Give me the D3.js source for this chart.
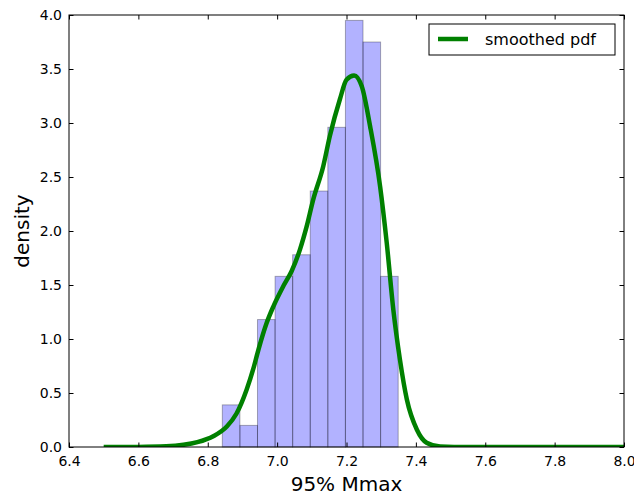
<!DOCTYPE html>
<html>
<head>
<meta charset="utf-8">
<script src="https://cdn.jsdelivr.net/npm/d3@7"></script>
<style>
  html, body { margin: 0; padding: 0; background: #fff; }
  svg { display: block; font-family: "DejaVu Sans", sans-serif; }
</style>
</head>
<body>
<svg id="chart" width="634" height="496"></svg>
<script>
// Histogram bin edges (left edges) and their normalised densities
const binStart = 6.842;
const binWidth = 0.0507;
const binDensity = [0.39, 0.20, 1.18, 1.58, 1.78, 2.37, 2.96, 3.95, 3.75, 1.58];

// Smoothed probability density (kernel estimate) sampled along the x range
const pdfX = [6.50, 6.60, 6.68, 6.73, 6.77, 6.816, 6.855, 6.883, 6.912, 6.931, 6.946,
              6.970, 6.989, 7.018, 7.042, 7.066, 7.085, 7.104, 7.133, 7.152, 7.181, 7.200,
              7.222, 7.244, 7.268, 7.297, 7.316, 7.335, 7.354, 7.374, 7.403, 7.431,
              7.47, 7.55, 8.0];
const pdfY = [0, 0.001, 0.006, 0.02, 0.045, 0.10, 0.19, 0.31, 0.53, 0.72, 0.90,
              1.15, 1.30, 1.49, 1.63, 1.83, 2.04, 2.29, 2.60, 2.88, 3.22, 3.40,
              3.44, 3.34, 2.97, 2.41, 1.89, 1.27, 0.81, 0.44, 0.16, 0.04,
              0.005, 0, 0];

// Axis ticks
const xTicks = [6.4, 6.6, 6.8, 7.0, 7.2, 7.4, 7.6, 7.8, 8.0];
const yTicks = [0.0, 0.5, 1.0, 1.5, 2.0, 2.5, 3.0, 3.5, 4.0];

const svg = d3.select("#chart");
const plotL = 69, plotR = 624, plotT = 15, plotB = 447;

const x = d3.scaleLinear().domain([6.4, 8.0]).range([plotL, plotR]);
const y = d3.scaleLinear().domain([0, 4.0]).range([plotB, plotT]);

// Histogram bars
const bins = binDensity.map((d, i) => ({ x0: binStart + i * binWidth, x1: binStart + (i + 1) * binWidth, d }));
svg.append("g").selectAll("rect").data(bins).join("rect")
  .attr("x", b => x(b.x0))
  .attr("y", b => y(b.d))
  .attr("width", b => x(b.x1) - x(b.x0))
  .attr("height", b => y(0) - y(b.d))
  .attr("fill", "rgb(0,0,255)")
  .attr("fill-opacity", 0.3)
  .attr("stroke", "#000")
  .attr("stroke-opacity", 0.3)
  .attr("stroke-width", 1);

// Smoothed pdf curve
const pdf = pdfX.map((v, i) => [v, pdfY[i]]);
svg.append("clipPath").attr("id", "plotclip").append("rect")
  .attr("x", plotL).attr("y", plotT).attr("width", plotR - plotL).attr("height", plotB - plotT);
svg.append("path")
  .datum(pdf)
  .attr("clip-path", "url(#plotclip)")
  .attr("fill", "none")
  .attr("stroke", "#008000")
  .attr("stroke-width", 4.5)
  .attr("stroke-linejoin", "round")
  .attr("d", d3.line().x(d => x(d[0])).y(d => y(d[1])).curve(d3.curveMonotoneX));

// Axes: ticks pointing inward on all four sides
const tickLen = 4.5;
const fmt = d3.format(".1f");
const axisStyle = g => {
  g.select(".domain").remove();
  g.selectAll(".tick line").attr("stroke", "#000");
  g.selectAll(".tick text").attr("fill", "#000").style("font-size", "14px").style("font-family", "DejaVu Sans, sans-serif");
};

svg.append("g").attr("transform", `translate(0,${plotB})`)
  .call(d3.axisBottom(x).tickValues(xTicks).tickFormat(fmt).tickSizeInner(-tickLen).tickSizeOuter(0).tickPadding(9))
  .call(axisStyle);
svg.append("g").attr("transform", `translate(0,${plotT})`)
  .call(d3.axisTop(x).tickValues(xTicks).tickFormat("").tickSizeInner(-tickLen).tickSizeOuter(0))
  .call(axisStyle);
svg.append("g").attr("transform", `translate(${plotL},0)`)
  .call(d3.axisLeft(y).tickValues(yTicks).tickFormat(fmt).tickSizeInner(-tickLen).tickSizeOuter(0).tickPadding(7))
  .call(axisStyle);
svg.append("g").attr("transform", `translate(${plotR},0)`)
  .call(d3.axisRight(y).tickValues(yTicks).tickFormat("").tickSizeInner(-tickLen).tickSizeOuter(0))
  .call(axisStyle);

// Frame
svg.append("rect")
  .attr("x", plotL).attr("y", plotT).attr("width", plotR - plotL).attr("height", plotB - plotT)
  .attr("fill", "none").attr("stroke", "#000").attr("stroke-width", 1);

// Axis titles
svg.append("text")
  .attr("x", (plotL + plotR) / 2).attr("y", 491)
  .attr("text-anchor", "middle").style("font-size", "20px").attr("fill", "#000")
  .text("95% Mmax");
svg.append("text")
  .attr("transform", `translate(29,${(plotT + plotB) / 2}) rotate(-90)`)
  .attr("text-anchor", "middle").style("font-size", "20px").attr("fill", "#000")
  .text("density");

// Legend
const lg = svg.append("g");
lg.append("rect").attr("x", 429).attr("y", 24).attr("width", 186).attr("height", 31)
  .attr("fill", "#fff").attr("stroke", "#000").attr("stroke-width", 1);
lg.append("line").attr("x1", 438).attr("x2", 468).attr("y1", 39).attr("y2", 39)
  .attr("stroke", "#008000").attr("stroke-width", 4.5);
lg.append("text").attr("x", 485).attr("y", 45).style("font-size", "16px").attr("fill", "#000")
  .text("smoothed pdf");
</script>
</body>
</html>
